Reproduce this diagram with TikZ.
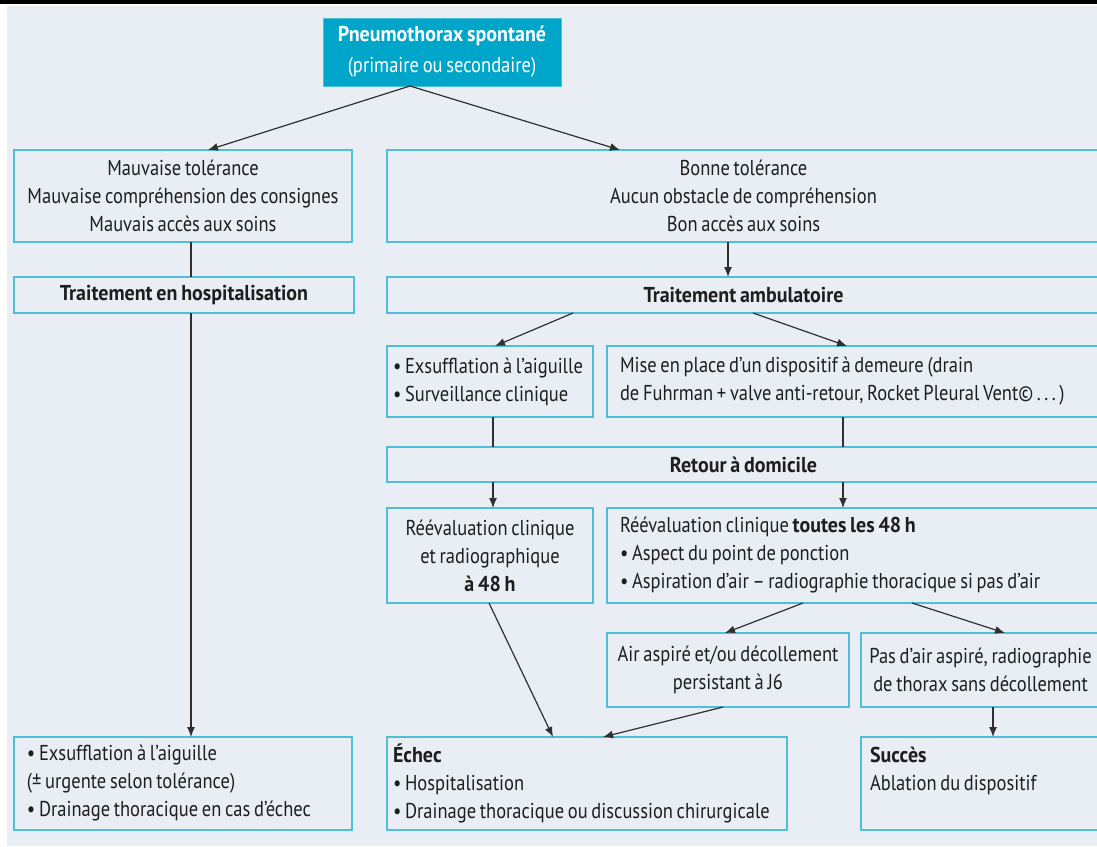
\documentclass[tikz,border=0pt]{standalone}
\usepackage{fontspec}
\setmainfont{PT Sans}[FakeStretch=0.86, WordSpace=0.75, BoldFeatures={FakeStretch=0.93}]
\usetikzlibrary{arrows.meta}
\definecolor{bgc}{HTML}{E9EDF4}
\definecolor{framec}{HTML}{4FBFD9}
\definecolor{headfill}{HTML}{00A6C9}
\definecolor{ink}{HTML}{1E1E1E}
\definecolor{arrc}{HTML}{303030}
\begin{document}
\begin{tikzpicture}[x=1pt,y=-1pt,
  box/.style={draw=framec, line width=1.4pt, fill=bgc, inner sep=0pt, outer sep=0pt,
    text=ink, font=\fontsize{21.5}{28}\selectfont},
  cbox/.style={box, align=center},
  ltext/.style={inner sep=0pt, outer sep=0pt, text=ink, align=left, anchor=west,
    font=\fontsize{21.5}{28}\selectfont},
  headbox/.style={fill=headfill, draw=headfill!70!white, line width=1pt, inner sep=0pt, outer sep=0pt,
    text=white, align=center, font=\fontsize{21.5}{31}\selectfont},
  link/.style={draw=arrc, line width=1.2pt},
  arrow/.style={link, -{Latex[length=10pt,width=8pt]}}
]
\useasboundingbox (0,0) rectangle (1097,846);
\clip (0,0) rectangle (1097,846);
\fill[white] (0,0) rectangle (1097,846);
\fill[black] (0,0) rectangle (1097,4);
\fill[bgc] (7,6) rectangle (1097,846);

% nodes
\node[headbox, minimum width=238pt, minimum height=68pt] (head) at (442,52)
  {\textbf{Pneumothorax spontané}\\(primaire ou secondaire)};

\node[cbox, minimum width=338pt, minimum height=92pt] (b1L) at (183,196)
  {Mauvaise tolérance\\Mauvaise compréhension des consignes\\Mauvais accès aux soins};
\node[cbox, minimum width=713pt, minimum height=92pt] (b1R) at (743.5,196)
  {Bonne tolérance\\Aucun obstacle de compréhension\\Bon accès aux soins};

\node[cbox, minimum width=340pt, minimum height=36pt] (hosp) at (184,295)
  {\textbf{Traitement en hospitalisation}};
\node[cbox, minimum width=713pt, minimum height=36pt] (amb) at (743.5,295)
  {\textbf{Traitement ambulatoire}};

\node[box, minimum width=206pt, minimum height=71pt] (exs) at (490,381.5) {};
\node[ltext] (exs-t) at ([xshift=6pt]exs.west)
  {\textbullet\ Exsufflation à l’aiguille\\\textbullet\ Surveillance clinique};
\node[box, minimum width=493pt, minimum height=71pt] (mise) at (853.5,381.5) {};
\node[ltext] (mise-t) at ([xshift=13pt]mise.west)
  {Mise en place d’un dispositif à demeure (drain\\de Fuhrman + valve anti-retour, Rocket Pleural Vent©\,.\,.\,.\,)};

\node[cbox, minimum width=713pt, minimum height=35pt] (ret) at (743.5,464.5)
  {\textbf{Retour à domicile}};

\node[cbox, minimum width=206pt, minimum height=95pt] (rev1) at (490,555.5)
  {Réévaluation clinique\\et radiographique\\\textbf{à 48 h}};
\node[box, minimum width=493pt, minimum height=95pt] (rev2) at (853.5,555.5) {};
\node[ltext] (rev2-t) at ([xshift=13pt]rev2.west)
  {Réévaluation clinique \textbf{toutes les 48 h}\\\textbullet\ Aspect du point de ponction\\\textbullet\ Aspiration d’air – radiographie thoracique si pas d’air};

\node[cbox, minimum width=242pt, minimum height=74pt] (air) at (728,670)
  {Air aspiré et/ou décollement\\persistant à J6};
\node[cbox, minimum width=239pt, minimum height=74pt] (pas) at (980.5,670)
  {Pas d’air aspiré, radiographie\\de thorax sans décollement};

\node[box, minimum width=338pt, minimum height=93pt] (botL) at (183,783.5) {};
\node[ltext] (botL-t) at ([xshift=13pt]botL.west)
  {\textbullet\ Exsufflation à l’aiguille\\(± urgente selon tolérance)\\\textbullet\ Drainage thoracique en cas d’échec};
\node[box, minimum width=400pt, minimum height=93pt] (echec) at (587,783.5) {};
\node[ltext] (echec-t) at ([xshift=6pt]echec.west)
  {\textbf{Échec}\\\textbullet\ Hospitalisation\\\textbullet\ Drainage thoracique ou discussion chirurgicale};
\node[box, minimum width=239pt, minimum height=93pt] (succ) at (980.5,783.5) {};
\node[ltext] (succ-t) at ([xshift=9pt,yshift=13pt]succ.west)
  {\textbf{Succès}\\Ablation du dispositif};

% connectors
\draw[arrow] ([xshift=87pt]head.south west) -- ([xshift=194pt]b1L.north west);
\draw[arrow] ([xshift=87pt]head.south west) -- ([xshift=233pt]b1R.north west);
\draw[link] ([xshift=177pt]b1L.south west) -- ([xshift=177pt]hosp.north west);
\draw[arrow] ([xshift=177pt]hosp.south west) -- ([xshift=177pt]botL.north west);
\draw[arrow] ([xshift=341pt]b1R.south west) -- ([xshift=341pt]amb.north west);
\draw[arrow] ([xshift=186pt]amb.south west) -- ([xshift=108pt]exs.north west);
\draw[arrow] ([xshift=366pt]amb.south west) -- ([xshift=240pt]mise.north west);
\draw[link] ([xshift=106pt]exs.south west) -- ([xshift=106pt]ret.north west);
\draw[link] ([xshift=236pt]mise.south west) -- ([xshift=456pt]ret.north west);
\draw[arrow] ([xshift=106pt]ret.south west) -- ([xshift=106pt]rev1.north west);
\draw[arrow] ([xshift=456pt]ret.south west) -- ([xshift=236pt]rev2.north west);
\draw[arrow] ([xshift=102pt]rev1.south west) -- ([xshift=166pt]echec.north west);
\draw[arrow] ([xshift=196pt]rev2.south west) -- ([xshift=118pt]air.north west);
\draw[arrow] ([xshift=305pt]rev2.south west) -- ([xshift=144pt]pas.north west);
\draw[arrow] ([xshift=116pt]air.south west) -- ([xshift=216pt]echec.north west);
\draw[arrow] ([xshift=132pt]pas.south west) -- ([xshift=132pt]succ.north west);
\end{tikzpicture}
\end{document}
